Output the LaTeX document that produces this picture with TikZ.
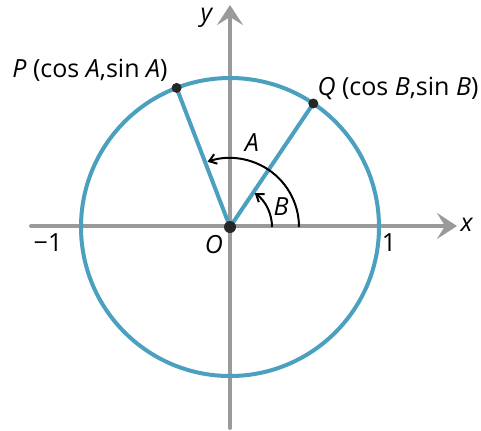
\documentclass[tikz,border=0pt]{standalone}
\usepackage{fontspec}
\setmainfont{Open Sans}
\usetikzlibrary{arrows.meta,calc}
\definecolor{circ}{HTML}{4BA0BF}
\definecolor{axisgray}{HTML}{9A9A9C}
\begin{document}
\begin{tikzpicture}[x=0.5pt,y=-0.5pt,
  lbl/.style={font=\fontsize{12.5}{15}\selectfont, inner sep=0pt},
  axisline/.style={draw=axisgray, line width=2pt, line cap=round, -{Stealth[length=10pt,width=13pt,inset=4pt]}},
  teal/.style={draw=circ, line width=2pt},
  anglearc/.style={draw=black, line width=1pt, -{Straight Barb[length=3.5pt,width=5pt]}},
  dot/.style={circle, fill=black!85, inner sep=0pt, minimum size=5pt}]
\useasboundingbox (0,0) rectangle (481,430);
\coordinate (O) at (230,227);
\coordinate (xl) at (31,226);
\coordinate (xr) at (457,226);
\coordinate (yb) at (230,428);
\coordinate (yt) at (230,5);
\draw[axisline] (xl) -- (xr);
\draw[axisline] (yb) -- (yt);
\draw[teal] (O) circle[radius=149];
\coordinate (P) at ($(O)+(-111:149)$);
\coordinate (Q) at ($(O)+(-56:149)$);
\draw[teal] (O) -- (P);
\draw[teal] (O) -- (Q);
\draw[anglearc] ($(O)+(69,0)$) arc[start angle=0, end angle=-109, radius=69];
\draw[anglearc] ($(O)+(42,0)$) arc[start angle=0, end angle=-54, radius=42];
\node[dot] (Pd) at (P) {};
\node[dot] (Qd) at (Q) {};
\node[dot, minimum size=6pt] (Od) at (O) {};
\node[lbl] (Plbl) at (90,70) {\textit{P} (cos \textit{A},sin \textit{A})};
\node[lbl] (Qlbl) at (398,88) {\textit{Q} (cos \textit{B},sin \textit{B})};
\node[lbl] (Albl) at (252,143) {\textit{A}};
\node[lbl] (Blbl) at (281,207) {\textit{B}};
\node[lbl] (Olbl) at (214,245) {\textit{O}};
\node[lbl] (m1) at (48,243) {−1};
\node[lbl] (p1) at (389,243) {1};
\node[lbl] (xlbl) at (467,225) {\textit{x}};
\node[lbl] (ylbl) at (207,18) {\textit{y}};
\end{tikzpicture}
\end{document}
